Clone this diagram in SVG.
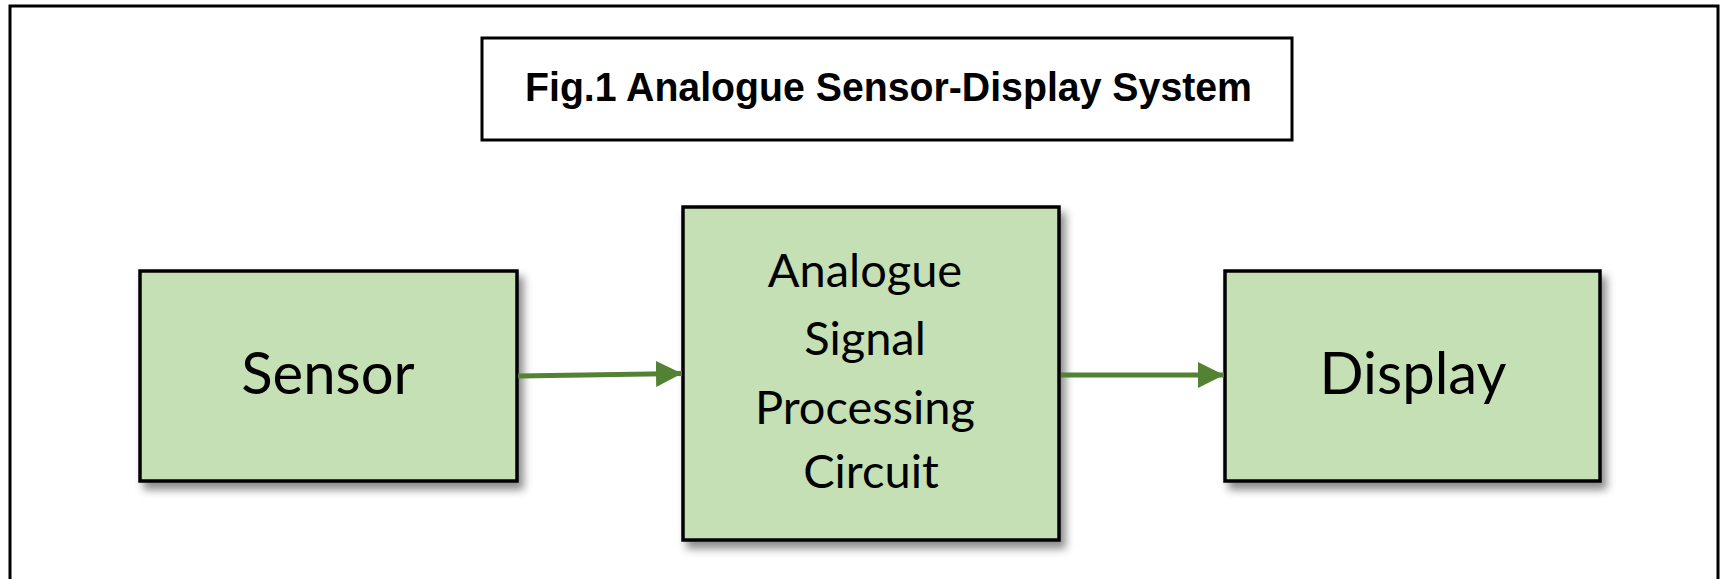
<svg xmlns="http://www.w3.org/2000/svg" width="1726" height="579" viewBox="0 0 1726 579">
  <defs>
    <filter id="shadow" x="-10%" y="-10%" width="130%" height="130%">
      <feDropShadow dx="5" dy="7" stdDeviation="4" flood-color="#000" flood-opacity="0.45"/>
    </filter>
    <marker id="arrow" markerWidth="5.2" markerHeight="5.2" refX="5.2" refY="2.6" orient="auto" markerUnits="strokeWidth">
      <path d="M0,0 L5.2,2.6 L0,5.2 Z" fill="#548235"/>
    </marker>
  </defs>
  <style>
    .frame { fill: #fff; stroke: #000; stroke-width: 3; }
    .block { fill: #C5E0B4; stroke: #000; stroke-width: 3.5; filter: url(#shadow); }
    .label { font-family: Lato, "Liberation Sans", sans-serif; fill: #000; text-anchor: middle; }
    .title { font-family: "Liberation Sans", Arial, sans-serif; font-weight: bold; font-size: 40px; fill: #000; }
    .link { stroke: #548235; stroke-width: 5; fill: none; marker-end: url(#arrow); }
  </style>

  <rect width="1726" height="579" fill="#fff"/>
  <!-- outer border -->
  <rect class="frame" x="10" y="6" width="1708" height="620"/>

  <g id="title">
    <rect x="482" y="38" width="810" height="102" fill="#fff" stroke="#000" stroke-width="3"/>
    <text class="title" x="525" y="101" textLength="727" lengthAdjust="spacingAndGlyphs">Fig.1 Analogue Sensor-Display System</text>
  </g>

  <g id="sensor">
    <rect class="block" x="140" y="271" width="377" height="210"/>
    <text class="label" x="328" y="394" font-size="58">Sensor</text>
  </g>

  <g id="processing">
    <rect class="block" x="683" y="207" width="376" height="333"/>
    <text class="label" x="871" font-size="47">
      <tspan x="871" y="287">Analogue</tspan>
      <tspan x="871" y="355">Signal</tspan>
      <tspan x="871" y="424">Processing</tspan>
      <tspan x="871" y="488">Circuit</tspan>
    </text>
  </g>

  <g id="display">
    <rect class="block" x="1225" y="271" width="375" height="210"/>
    <text class="label" x="1413" y="394" font-size="58">Display</text>
  </g>

  <g id="connectors">
    <line class="link" x1="518" y1="376" x2="682" y2="373.5"/>
    <line class="link" x1="1061" y1="375" x2="1224" y2="375"/>
  </g>
</svg>
